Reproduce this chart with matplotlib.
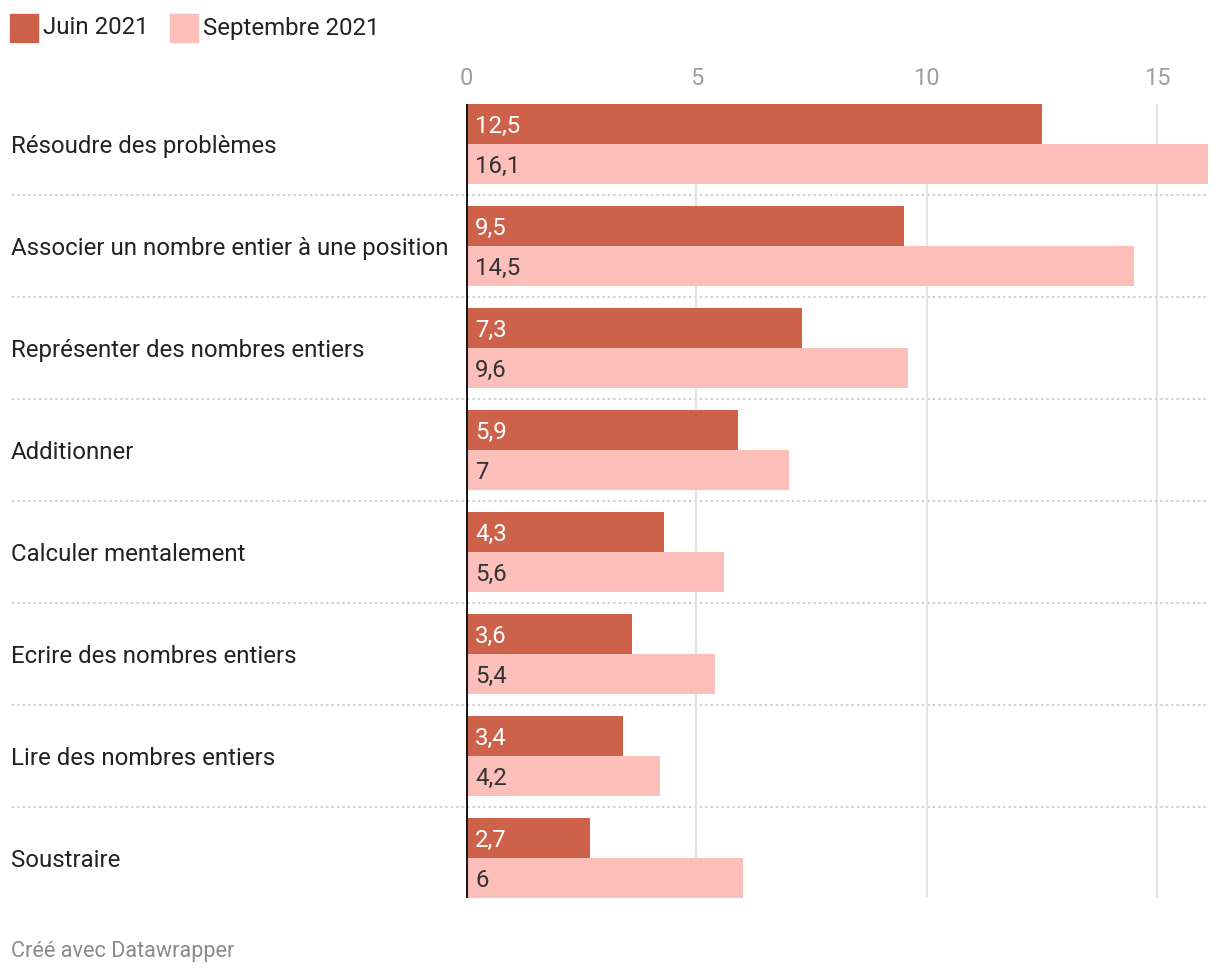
import matplotlib
matplotlib.use("Agg")
import matplotlib.pyplot as plt
from matplotlib.patches import Rectangle
from matplotlib.transforms import blended_transform_factory

categories = ["Résoudre des problèmes", "Associer un nombre entier à une position",
              "Représenter des nombres entiers", "Additionner", "Calculer mentalement",
              "Ecrire des nombres entiers", "Lire des nombres entiers", "Soustraire"]
juin = [12.5, 9.5, 7.3, 5.9, 4.3, 3.6, 3.4, 2.7]
septembre = [16.1, 14.5, 9.6, 7.0, 5.6, 5.4, 4.2, 6.0]
series_names = ["Juin 2021", "Septembre 2021"]
xticks = [0, 5, 10, 15]

c_juin = "#cd614a"
c_sept = "#fcbfb9"

plt.rcParams['font.family'] = ['Roboto', 'DejaVu Sans']

W, H = 1220, 976
fig = plt.figure(figsize=(W/100, H/100), dpi=100)
L, R, T, B = 466, 1208, 104, 898
ax = fig.add_axes([L/W, 1-B/H, (R-L)/W, (B-T)/H])

bh = 40/102
n = len(categories)
ys = list(range(n))
ax.barh([y - bh/2 for y in ys], juin, height=bh, color=c_juin, zorder=2)
ax.barh([y + bh/2 for y in ys], septembre, height=bh, color=c_sept, zorder=2)
ax.set_xlim(0, 16.1)
ax.set_ylim(n - 1 + bh, -bh)

for s in ax.spines.values():
    s.set_visible(False)
ax.set_yticks([])
ax.set_xticks(xticks)
ax.xaxis.tick_top()
ax.tick_params(axis='x', length=0, pad=10, labelsize=17, labelcolor="#a0a0a0")
ax.set_xticklabels([str(t) for t in xticks])
for t in xticks[1:]:
    ax.axvline(t, color="#e3e3e3", lw=1.5, zorder=1)
ax.axvline(0, color="#1a1a1a", lw=2.2, zorder=3)

dy = 0.02
for y, v in zip(ys, juin):
    ax.text(0.2, y - bh/2 + dy, f"{v:g}".replace(".", ","), color="white", fontsize=17.3,
            va="center", ha="left", zorder=4)
for y, v in zip(ys, septembre):
    ax.text(0.2, y + bh/2 + dy, f"{v:g}".replace(".", ","), color="#333333", fontsize=17.3,
            va="center", ha="left", zorder=4)

tr = blended_transform_factory(fig.transFigure, ax.transData)
for y, c in zip(ys, categories):
    ax.text(11/W, y + dy, c, transform=tr, fontsize=17.3, color="#222222", va="center", ha="left")
for y in ys[:-1]:
    ax.plot([12/W, R/W], [y + 0.5, y + 0.5], transform=tr, color="#c8c8c8", lw=1.3,
            linestyle=(0, (1.2, 1.8)), clip_on=False, zorder=0)

# legend
fig.add_artist(Rectangle((10/W, 1-42/H), 28/W, 28/H, transform=fig.transFigure, color=c_juin))
fig.text(43/W, 1-28/H, series_names[0], fontsize=17.3, color="#222222", va="center", ha="left")
fig.add_artist(Rectangle((170/W, 1-42/H), 28/W, 28/H, transform=fig.transFigure, color=c_sept))
fig.text(203/W, 1-28/H, series_names[1], fontsize=17.3, color="#222222", va="center", ha="left")

fig.text(11/W, 1-951/H, "Créé avec Datawrapper", fontsize=15.6, color="#8a8a8a", va="center", ha="left")

fig.savefig("out.png", dpi=100)
